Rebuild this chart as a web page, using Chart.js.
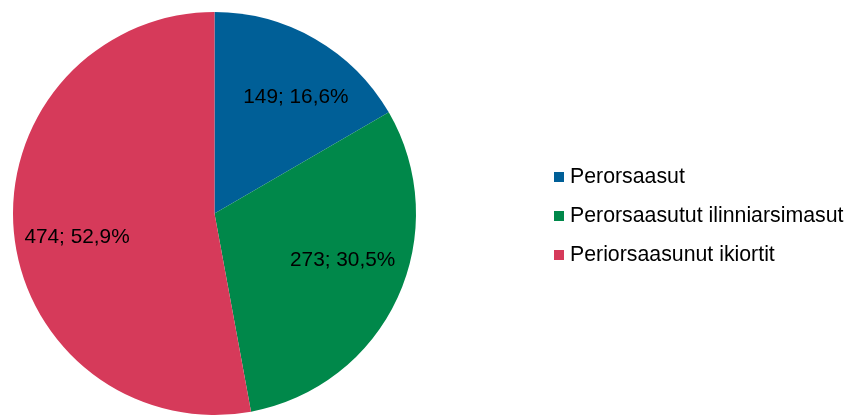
<!DOCTYPE html>
<html>
<head>
<meta charset="utf-8">
<script src="https://cdn.jsdelivr.net/npm/chart.js@4/dist/chart.umd.min.js"></script>
<style>
    html, body { margin: 0; padding: 0; background: #fff; }
    #wrap { position: relative; width: 860px; height: 415px; }
    #legend { position: absolute; left: 554px; top: 164px; font-family: "Liberation Sans", Arial, sans-serif; font-size: 21.3px; color: #000; }
    #legend div { height: 39px; line-height: 24px; white-space: nowrap; }
    #legend span.box { display: inline-block; width: 10px; height: 10px; margin-right: 6px; vertical-align: 1px; }
</style>
</head>
<body>
<div id="wrap">
    <canvas id="pie" width="860" height="415"></canvas>
    <div id="legend"></div>
</div>
<script>
    "use strict";

    var categories = ["Perorsaasut", "Perorsaasutut ilinniarsimasut", "Periorsaasunut ikiortit"];
    var counts = [149, 273, 474];
    var percents = ["16,6%", "30,5%", "52,9%"];
    var colors = ["#005F97", "#00884A", "#D63A5A"];

    // small nudges of the slice labels (px), like the excel "best fit"
    var labelNudge = [[11, 6], [0, -12], [3, 11]];

    var legend = document.getElementById("legend");
    for (var i = 0; i < categories.length; i++) {
        var row = document.createElement("div");
        row.innerHTML = '<span class="box" style="background:' + colors[i] + '"></span>' + categories[i];
        legend.appendChild(row);
    }

    var sliceLabels = {
        id: "sliceLabels",
        afterDatasetsDraw: function (chart) {
            var ctx = chart.ctx;
            var meta = chart.getDatasetMeta(0);
            ctx.save();
            ctx.font = "20.8px 'Liberation Sans', Arial, sans-serif";
            ctx.fillStyle = "#000";
            ctx.textAlign = "center";
            ctx.textBaseline = "middle";
            for (var i = 0; i < meta.data.length; i++) {
                var arc = meta.data[i];
                var mid = (arc.startAngle + arc.endAngle) / 2;
                var r = arc.outerRadius * 0.7;
                var x = arc.x + Math.cos(mid) * r + labelNudge[i][0];
                var y = arc.y + Math.sin(mid) * r + labelNudge[i][1];
                ctx.fillText(counts[i] + "; " + percents[i], x, y);
            }
            ctx.restore();
        }
    };

    var ctx = document.getElementById("pie").getContext("2d");
    var pieChart = new Chart(ctx, {
        type: "pie",
        data: {
            labels: categories,
            datasets: [{
                data: counts,
                backgroundColor: colors,
                borderWidth: 0
            }]
        },
        options: {
            responsive: false,
            animation: false,
            layout: { padding: { left: 13, top: 12, right: 444, bottom: 0 } },
            plugins: {
                legend: { display: false },
                tooltip: { enabled: false }
            }
        },
        plugins: [sliceLabels]
    });
</script>
</body>
</html>
